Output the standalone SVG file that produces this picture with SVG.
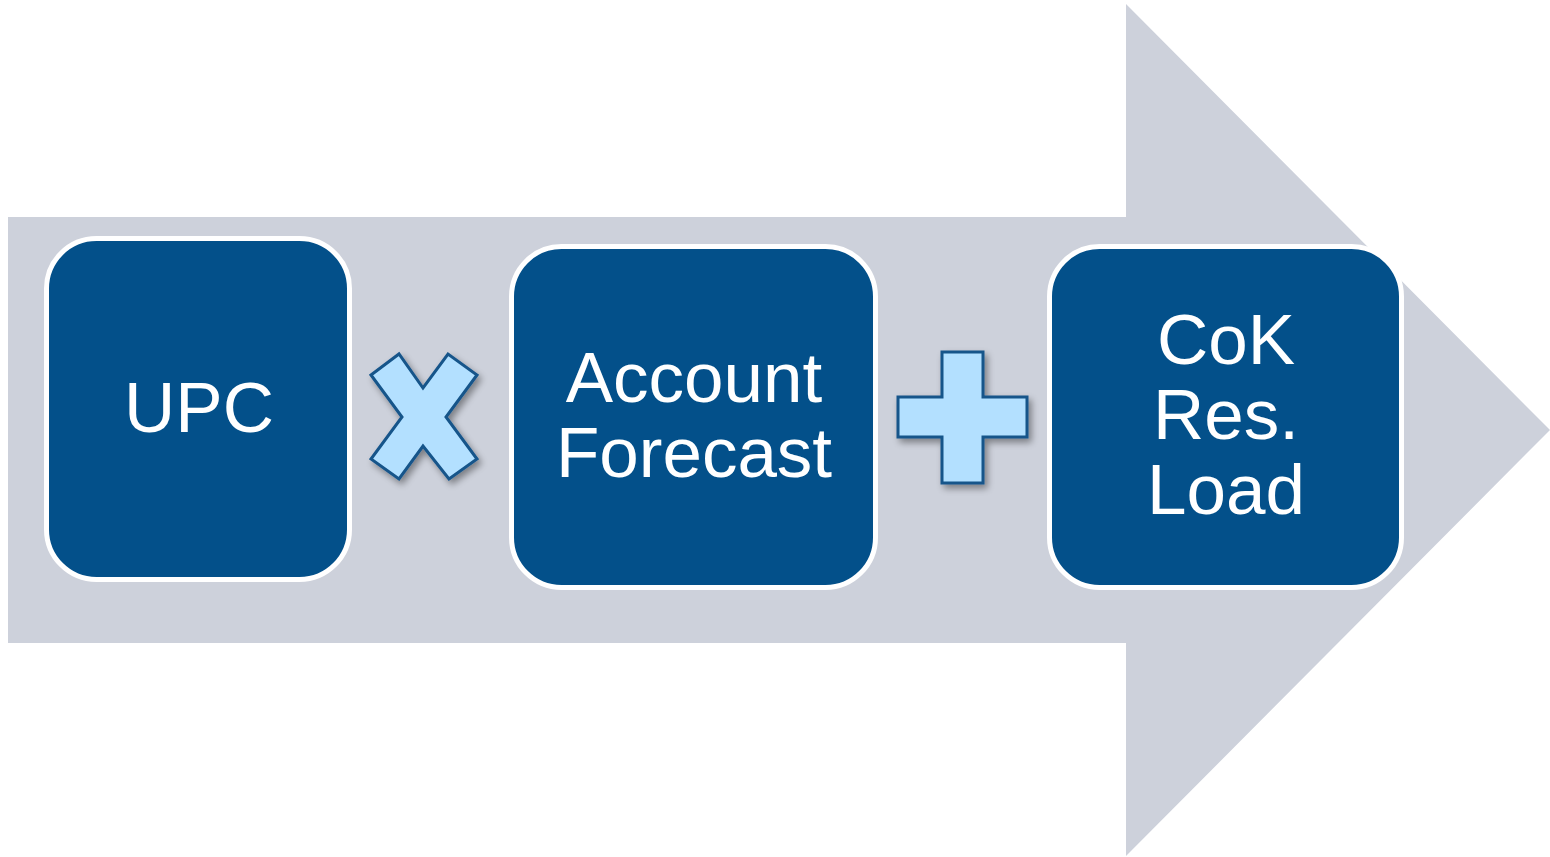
<svg xmlns="http://www.w3.org/2000/svg" width="1550" height="857" viewBox="0 0 1550 857">
  <style>
    .box { fill: #03508A; stroke: #FFFFFF; stroke-width: 5; }
    .label { fill: #FFFFFF; font-family: "Liberation Sans", Arial, sans-serif; font-size: 71px; text-anchor: middle; }
    .op { fill: #B3E0FF; stroke: #15548A; stroke-width: 3; stroke-linejoin: miter; filter: url(#shadow); }
  </style>
  <defs>
    <filter id="shadow" x="-20%" y="-20%" width="150%" height="150%">
      <feGaussianBlur in="SourceAlpha" stdDeviation="3.5"/>
      <feOffset dx="3" dy="4" result="blur"/>
      <feComponentTransfer><feFuncA type="linear" slope="0.4"/></feComponentTransfer>
      <feMerge><feMergeNode/><feMergeNode in="SourceGraphic"/></feMerge>
    </filter>
  </defs>
  <rect width="1550" height="857" fill="#FFFFFF"/>

  <!-- background process arrow -->
  <g id="arrow">
    <polygon points="8,217 1126,217 1126,4 1550,430 1126,856 1126,643 8,643" fill="#CDD1DB"/>
  </g>

  <g id="node-upc">
    <rect class="box" x="46.5" y="238.5" width="303" height="341" rx="50" ry="50"/>
    <text class="label" x="199" y="432">UPC</text>
  </g>

  <g id="node-account-forecast">
    <rect class="box" x="511.5" y="246.5" width="364" height="341" rx="50" ry="50"/>
    <text class="label" x="694" y="402">Account</text>
    <text class="label" x="694" y="477">Forecast</text>
  </g>

  <g id="node-cok-res-load">
    <rect class="box" x="1049.5" y="246.5" width="352" height="341" rx="50" ry="50"/>
    <text class="label" x="1226" y="364">CoK</text>
    <text class="label" x="1226" y="439">Res.</text>
    <text class="label" x="1226" y="514">Load</text>
  </g>

  <!-- operators between nodes -->
  <g id="connectors">
    <polygon class="op" points="371,375 399,354 423,388 448,354 477,375 446,417 477,459 449,479 423,446 399,479 371,459 402,417"/>
    <polygon class="op" points="942,352 983,352 983,397 1027,397 1027,437 983,437 983,483 942,483 942,437 898,437 898,397 942,397"/>
  </g>
</svg>
